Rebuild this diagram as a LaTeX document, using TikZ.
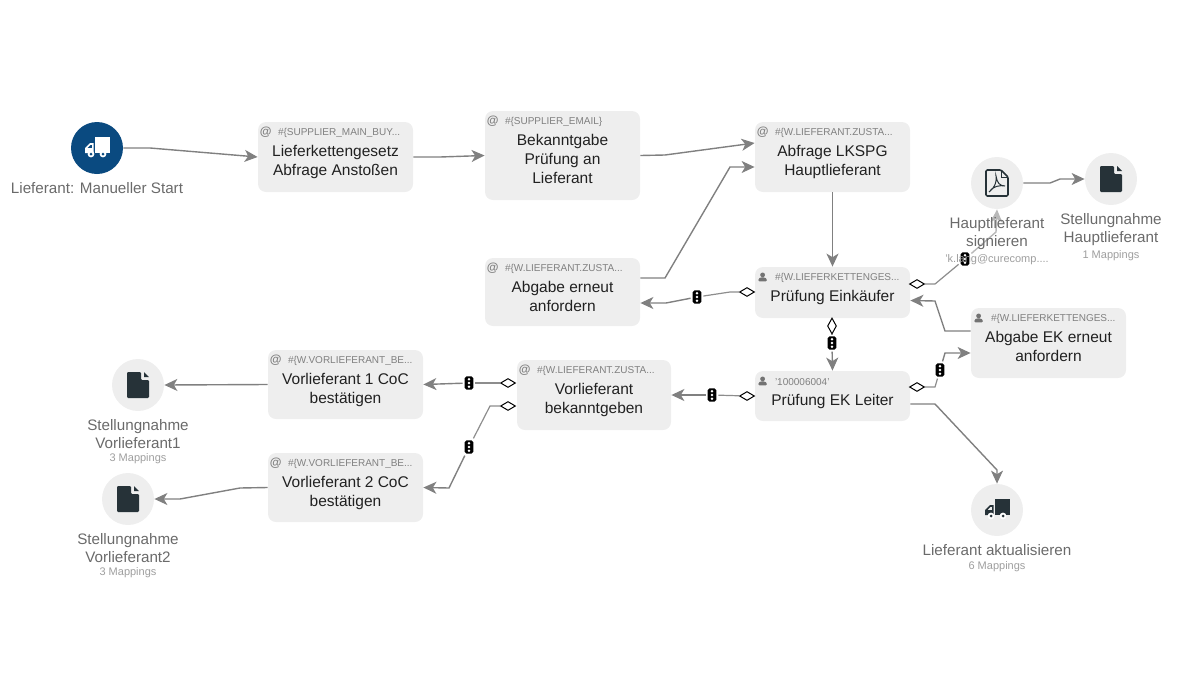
\documentclass[tikz,border=0pt]{standalone}
\usepackage{fontspec}
\setmainfont{Liberation Sans}
\usetikzlibrary{arrows.meta,positioning,shapes.geometric}

\definecolor{boxgray}{HTML}{EEEEEE}
\definecolor{linegray}{HTML}{808080}
\definecolor{startblue}{HTML}{0A4A80}
\definecolor{icondark}{HTML}{263238}
\definecolor{titletext}{HTML}{212121}
\definecolor{capttext}{HTML}{6A6A6A}
\definecolor{headtext}{HTML}{808080}
\definecolor{maptext}{HTML}{9E9E9E}

\tikzset{
  taskbox/.style={fill=boxgray, rounded corners=4pt, inner sep=0pt},
  headtxt/.style={font=\fontsize{5}{6}\selectfont, text=headtext, inner sep=0pt, anchor=west},
  titletxt/.style={font=\fontsize{7.75}{9.4}\selectfont, text=titletext, align=center, inner sep=0pt, anchor=north},
  circ/.style={circle, fill=boxgray, minimum size=26pt, inner sep=0pt},
  capt/.style={font=\fontsize{7.6}{9}\selectfont, text=capttext, align=center, inner sep=0pt},
  mapn/.style={font=\fontsize{5.5}{6}\selectfont, text=maptext, inner sep=0pt},
  wire/.style={draw=linegray!90, line width=0.6pt},
  conn/.style={draw=linegray, line width=0.7pt, -{Stealth[length=6.5pt,width=6pt,inset=1.8pt]}},
  gate/.style={diamond, draw=black, fill=white, line width=0.5pt, inner sep=0pt, minimum width=7.5pt, minimum height=4.5pt},
  gatev/.style={gate, minimum width=4.5pt, minimum height=8pt},
  signal/.style={rectangle, fill=black, rounded corners=0.9pt, inner sep=0pt, outer sep=1pt,
    minimum width=4.4pt, minimum height=6.6pt,
    path picture={
      \foreach \yy in {-1.9pt,0pt,1.9pt}
        \fill[white] ([yshift=\yy]path picture bounding box.center) circle (0.7pt);
    }},
  pics/truckicon/.style={code={
    \fill[#1] (-2,-11) rectangle (13,5);
    \fill[#1, even odd rule] (-3.5,-5) -- (-7,-5) -- (-12,0) -- (-12,5) -- (-3.5,5) -- cycle
      (-5,-3.2) -- (-6.4,-3.2) -- (-9.5,0) -- (-5,0) -- cycle;
  }},
  pics/docicon/.style={code={
    \fill[icondark, rounded corners=0.6pt] (-11,-13) -- (3,-13) -- (3,-5) -- (11,-5) -- (11,13) -- (-11,13) -- cycle;
    \fill[icondark] (6,-13) -- (11,-8) -- (6,-8) -- cycle;
  }},
  pics/pdficon/.style={code={
    \draw[icondark, line width=0.8pt, rounded corners=0.6pt, line join=round] (-11,-13) -- (4,-13) -- (11,-6) -- (11,13) -- (-11,13) -- cycle;
    \draw[icondark, line width=0.5pt] (4,-13) -- (4,-6) -- (11,-6);
    \draw[icondark, line width=0.5pt] (-8,9) .. controls (-2,5) and (0,-2) .. (-1,-7) .. controls (0,0) and (3,3) .. (8,3) .. controls (3,2) and (-4,3) .. (-8,9);
  }},
  pics/usericon/.style={code={
    \fill[headtext!90!black] (0,-2.5) circle (2.4);
    \fill[headtext!90!black, rounded corners=0.5pt] (-4.2,4) -- (-4.2,1.5) -- (-2,0) -- (2,0) -- (4.2,1.5) -- (4.2,4) -- cycle;
  }},
  pics/aticon/.style={code={
    \node[font=\fontsize{6}{6}\selectfont\bfseries, text=headtext, inner sep=0pt] {@};
  }},
}

% name, centre, width, height, icon, header, title
\newcommand{\taskcard}[7]{
  \node[taskbox, minimum width=#3*0.5pt, minimum height=#4*0.5pt] (#1) at (#2) {};
  \pic at ([xshift=4pt,yshift=-5.4pt]#1.north west) {#5};
  \node[headtxt] at ([xshift=10pt,yshift=-5.8pt]#1.north west) {#6};
  \node[titletxt] at ([yshift=-11.8pt]#1.north) {#7};
}

\begin{document}
\begin{tikzpicture}[x=0.5pt, y=-0.5pt]
  \useasboundingbox (0,0) rectangle (1200,675);

  % process cards
  \taskcard{anstoss}{335.5,157}{155}{70}{aticon}{\#\{SUPPLIER\_MAIN\_BUY...}{Lieferkettengesetz\\Abfrage Anstoßen}
  \taskcard{bekannt}{562.5,155.5}{155}{89}{aticon}{\#\{SUPPLIER\_EMAIL\}}{Bekanntgabe\\Prüfung an\\Lieferant}
  \taskcard{lkspg}{832.5,157}{155}{70}{aticon}{\#\{W.LIEFERANT.ZUSTA...}{Abfrage LKSPG\\Hauptlieferant}
  \taskcard{erneut}{562.5,292}{155}{68}{aticon}{\#\{W.LIEFERANT.ZUSTA...}{Abgabe erneut\\anfordern}
  \taskcard{einkauf}{832.5,292.5}{155}{51}{usericon}{\#\{W.LIEFERKETTENGES...}{Prüfung Einkäufer}
  \taskcard{eknew}{1048.5,343}{155}{70}{usericon}{\#\{W.LIEFERKETTENGES...}{Abgabe EK erneut\\anfordern}
  \taskcard{ekleiter}{832.5,396}{155}{50}{usericon}{'100006004'}{Prüfung EK Leiter}
  \taskcard{vorbek}{594,395}{154}{70}{aticon}{\#\{W.LIEFERANT.ZUSTA...}{Vorlieferant\\bekanntgeben}
  \taskcard{vorone}{345.5,384.5}{155}{69}{aticon}{\#\{W.VORLIEFERANT\_BE...}{Vorlieferant 1 CoC\\bestätigen}
  \taskcard{vortwo}{345.5,487.5}{155}{69}{aticon}{\#\{W.VORLIEFERANT\_BE...}{Vorlieferant 2 CoC\\bestätigen}

  % round nodes
  \node[circ, fill=startblue] (start) at (97,148) {};
  \pic at (start) {truckicon=white};
  \fill[white] (91,154) circle (3.4) (103,154) circle (3.4);
  \fill[startblue] (91,154) circle (1.5) (103,154) circle (1.5);
  \node[capt, below=3.6pt of start] (startc) {Lieferant: Manueller Start};

  \node[circ] (signpdf) at (997,183) {};
  \pic at (signpdf) {pdficon};

  \node[circ] (dochaupt) at (1111,179) {};
  \pic at (dochaupt) {docicon};
  \node[capt, below=3.6pt of dochaupt] (dochauptc) {Stellungnahme\\Hauptlieferant};
  \node[mapn, below=2.4pt of dochauptc] {1 Mappings};

  \node[circ] (docone) at (138,385) {};
  \pic at (docone) {docicon};
  \node[capt, below=3.6pt of docone] (doconec) {Stellungnahme\\Vorlieferant1};
  \node[mapn, below=2.4pt of doconec] {3 Mappings};

  \node[circ] (doctwo) at (128,499) {};
  \pic at (doctwo) {docicon};
  \node[capt, below=3.6pt of doctwo] (doctwoc) {Stellungnahme\\Vorlieferant2};
  \node[mapn, below=2.4pt of doctwoc] {3 Mappings};

  \node[circ] (update) at (997,510) {};
  \pic at (update) {truckicon=icondark};
  \fill[white] (991,516) circle (3.4) (1003,516) circle (3.4);
  \fill[icondark] (991,516) circle (1.5) (1003,516) circle (1.5);
  \node[capt, below=3.6pt of update] (updatec) {Lieferant aktualisieren};
  \node[mapn, below=3pt of updatec] {6 Mappings};

  % gateways
  \node[gate] (g1) at (747,292) {};
  \node[gatev] (g2) at (832,326) {};
  \node[gate] (g3) at (917,284) {};
  \node[gate] (g4) at (917,387) {};
  \node[gate] (g5) at (747,396) {};
  \node[gate] (g6) at (508,383) {};
  \node[gate] (g7) at (508,406) {};

  % signals
  \node[signal] (s1) at (697,297) {};
  \node[signal] (s2) at (832,343) {};
  \node[signal] (s3) at (965,259) {};
  \node[signal] (s4) at (940,370) {};
  \node[signal] (s5) at (712,395) {};
  \node[signal] (s6) at (469,383) {};
  \node[signal] (s7) at (469,447) {};

  % connectors
  \draw[conn] (start.east) -- (150,148) -- (anstoss.west);
  \draw[conn] (anstoss.east) -- (440,157) -- (bekannt.west);
  \draw[conn] (bekannt.east) -- (665,155) -- ([yshift=7pt]lkspg.west);
  \draw[conn] ([yshift=7pt]erneut.east) -- (665,278) -- (730,167) -- ([yshift=-5pt]lkspg.west);
  \draw[conn] (lkspg.south) -- (einkauf.north);
  \draw[wire] (g1) -- (730,292) -- (s1);
  \draw[conn] (s1) -- (666,303) -- ([yshift=-5.5pt]erneut.east);
  \draw[wire] (g2) -- (s2);
  \draw[conn] (s2) -- (ekleiter.north);
  \draw[wire] (g3) -- (935,284) -- (s3);
  \draw[conn, draw=linegray!55] (s3) -- (996,232) -- (signpdf.south);
  \draw[conn] ([yshift=6pt]eknew.west) -- (945,331) -- (935,301) -- ([yshift=-4pt]einkauf.east);
  \draw[wire] (g4) -- (935,387) -- (s4);
  \draw[conn] (s4) -- (945,353) -- ([yshift=-5pt]eknew.west);
  \draw[conn] ([yshift=-4pt]ekleiter.east) -- (935,404) -- (997,470) -- (update.north);
  \draw[wire] (g5) -- (s5);
  \draw[conn] (s5) -- (vorbek.east);
  \draw[wire] (g6) -- (s6);
  \draw[conn] (s6) -- (vorone.east);
  \draw[wire] (g7) -- (490,406) -- (s7);
  \draw[conn] (s7) -- (449,488) -- (vortwo.east);
  \draw[conn] (vorone.west) -- (docone.east);
  \draw[conn] (vortwo.west) -- (240,488) -- (180,499) -- (doctwo.east);
  \draw[conn] (signpdf.east) -- (1050,183) -- (1060,179) -- (dochaupt.west);

  % text over the faint connector
  \node[capt, below=3.6pt of signpdf] (signc) {Hauptlieferant\\signieren};
  \node[mapn, below=2.4pt of signc] (signm) {'k.lang@curecomp....};
\end{tikzpicture}
\end{document}
